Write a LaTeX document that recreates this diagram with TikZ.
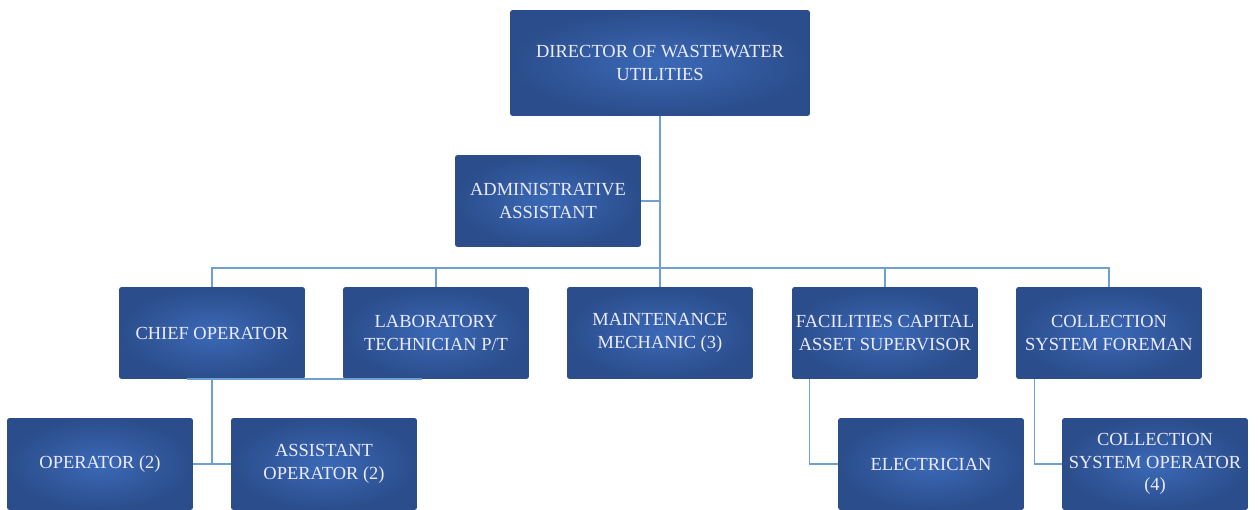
\documentclass[tikz,border=0pt]{standalone}
\usepackage{fontspec}
\setmainfont{Liberation Serif}
\usetikzlibrary{positioning}

\definecolor{boxin}{RGB}{59,105,183}
\definecolor{boxout}{RGB}{43,77,139}
\definecolor{linkblue}{RGB}{110,160,210}

\tikzset{
  orgbox/.style={rectangle, rounded corners=1.5pt, inner color=boxin, outer color=boxout,
    minimum width=3.72cm, minimum height=1.84cm, inner xsep=1pt, align=center, text=white!92!blue,
    font=\fontsize{10.5}{13}\selectfont},
  link/.style={draw=linkblue, line width=0.9pt}
}

\begin{document}
\begin{tikzpicture}[x=0.02cm,y=-0.02cm]
        \useasboundingbox (0,0) rectangle (1258,510);
        % top of the chart
        \node[orgbox, minimum width=6cm, minimum height=2.12cm] (dir) at (660,63) {DIRECTOR OF WASTEWATER\\UTILITIES};
        \node[orgbox] (admin) at (548,201) {ADMINISTRATIVE\\ASSISTANT};
        % second row
        \node[orgbox] (chief) at (212,333) {CHIEF OPERATOR};
        \node[orgbox] (lab) at (436,333) {LABORATORY\\TECHNICIAN P/T};
        \node[orgbox] (maint) at (660,333) {MAINTENANCE\\MECHANIC (3)};
        \node[orgbox] (fac) at (885,333) {FACILITIES CAPITAL\\ASSET SUPERVISOR};
        \node[orgbox] (coll) at (1109,333) {COLLECTION\\SYSTEM FOREMAN};
        % third row
        \node[orgbox] (op) at (100,464) {OPERATOR (2)};
        \node[orgbox] (asst) at (324,464) {ASSISTANT\\OPERATOR (2)};
        \node[orgbox] (elec) at (931,464) {ELECTRICIAN};
        \node[orgbox] (csop) at (1155,464) {COLLECTION\\SYSTEM OPERATOR\\(4)};

        \coordinate (bus) at (660,268);
        \coordinate (chiefl) at (187,379);
        \coordinate (chiefr) at (422,379);

        \draw[link] (dir.south) -- (maint.north);
        \draw[link] (admin.east) -- (admin.east -| dir.south);
        \draw[link] (chief.north) -- (chief.north |- bus) -- (coll.north |- bus) -- (coll.north);
        \draw[link] (lab.north) -- (lab.north |- bus);
        \draw[link] (fac.north) -- (fac.north |- bus);
        \draw[link] (chiefl) -- (chiefr);
        \draw[link] (chief.south) -- (chief.south |- op.east);
        \draw[link] (op.east) -- (asst.west);
        \draw[link] ([xshift=0.36cm]fac.south west) |- (elec.west);
        \draw[link] ([xshift=0.38cm]coll.south west) |- (csop.west);
    \end{tikzpicture}
\end{document}
